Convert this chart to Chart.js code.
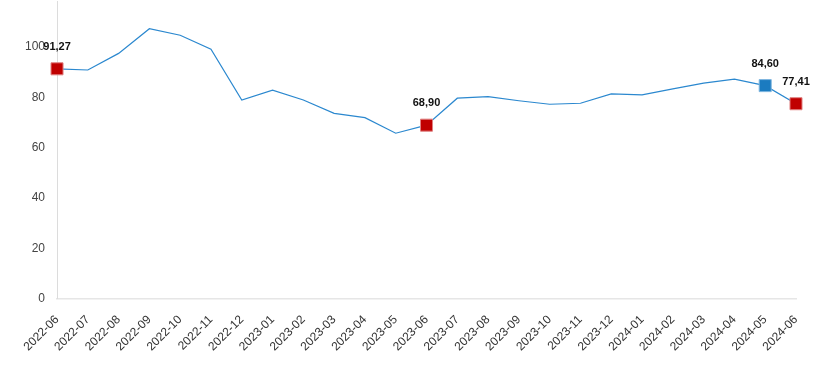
<!DOCTYPE html>
<html>
<head>
<meta charset="utf-8">
<script src="https://cdn.jsdelivr.net/npm/chart.js@4/dist/chart.umd.min.js"></script>
<style>
  html, body { margin: 0; padding: 0; background: #fff; overflow: hidden; }
  #wrap { width: 825px; height: 380px; margin-top: -8px; }
</style>
</head>
<body>
<div id="wrap"><canvas id="c"></canvas></div>
<script>
const months = ['2022-06','2022-07','2022-08','2022-09','2022-10','2022-11','2022-12',
  '2023-01','2023-02','2023-03','2023-04','2023-05','2023-06','2023-07','2023-08',
  '2023-09','2023-10','2023-11','2023-12','2024-01','2024-02','2024-03','2024-04',
  '2024-05','2024-06'];
const values = [91.27, 90.8, 97.4, 107.2, 104.6, 99.1, 78.9, 82.8, 78.9, 73.6, 71.9, 65.7,
  68.90, 79.6, 80.2, 78.6, 77.2, 77.6, 81.3, 80.9, 83.3, 85.6, 87.2, 84.60, 77.41];
// highlighted points: index -> colour
const redIdx = [0, 12, 24];
const blueIdx = [23];
const yTicks = [0, 20, 40, 60, 80, 100];

const RED = '#c00000', BLUE = '#1b7bc0', LINE = '#2b88cf';

const pointColors = values.map((v, i) =>
  redIdx.includes(i) ? RED : blueIdx.includes(i) ? BLUE : 'transparent');
const pointRadius = values.map((v, i) =>
  redIdx.includes(i) || blueIdx.includes(i) ? 8.5 : 0);

const fmt = v => v.toFixed(2).replace('.', ',');

const labelPlugin = {
  id: 'pointLabels',
  afterDatasetsDraw(chart) {
    const ctx = chart.ctx;
    const meta = chart.getDatasetMeta(0);
    ctx.save();
    ctx.font = 'bold 11px "Liberation Sans", Arial, sans-serif';
    ctx.fillStyle = '#111';
    ctx.textAlign = 'center';
    ctx.textBaseline = 'middle';
    redIdx.concat(blueIdx).forEach(i => {
      const p = meta.data[i];
      ctx.fillText(fmt(values[i]), p.x, p.y - 22);
    });
    ctx.restore();
  }
};

new Chart(document.getElementById('c'), {
  type: 'line',
  data: {
    labels: months,
    datasets: [{
      data: values,
      borderColor: LINE,
      borderWidth: 1.2,
      tension: 0,
      pointStyle: 'rect',
      pointRadius: pointRadius,
      pointHoverRadius: pointRadius,
      pointBackgroundColor: pointColors,
      pointBorderColor: values.map((v, i) => redIdx.includes(i) ? '#e08080' : blueIdx.includes(i) ? '#80b8e0' : 'transparent'),
      pointBorderWidth: 1
    }]
  },
  options: {
    responsive: true,
    maintainAspectRatio: false,
    animation: false,
    layout: { padding: { top: 0, right: 29, left: 21, bottom: 12 } },
    plugins: { legend: { display: false }, tooltip: { enabled: false } },
    scales: {
      x: {
        offset: false,
        grid: { display: false },
        border: { display: true, color: '#e6e6e6', width: 1.5 },
        ticks: {
          color: '#333',
          font: { family: '"Liberation Sans", Arial, sans-serif', size: 12 },
          minRotation: 45, maxRotation: 45, autoSkip: false, padding: 6
        }
      },
      y: {
        min: 0,
        max: 118,
        grid: { display: false },
        border: { display: true, color: '#dcdcdc', width: 1 },
        afterBuildTicks(axis) {
          axis.ticks = yTicks.map(v => ({ value: v }));
        },
        afterFit(axis) {
          axis.paddingTop = 0;
        },
        ticks: {
          color: '#444',
          padding: 4,
          font: { family: '"Liberation Sans", Arial, sans-serif', size: 12 }
        }
      }
    }
  },
  plugins: [labelPlugin]
});
</script>
</body>
</html>
